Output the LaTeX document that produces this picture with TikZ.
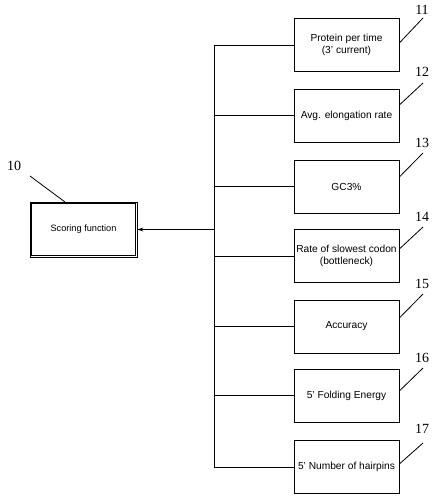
\documentclass[tikz,border=0pt]{standalone}
\usepackage{fontspec}
\setmainfont{Liberation Serif}
\setsansfont{Liberation Sans}
\usetikzlibrary{calc,arrows.meta}
\tikzset{
  factor/.style={draw, line width=0.7pt, minimum width=105pt, minimum height=53pt,
    inner sep=1pt, align=center, font=\sffamily\fontsize{10.2}{12.5}\selectfont},
  wire/.style={line width=0.7pt},
  leader/.style={line width=0.8pt},
  refnum/.style={font=\fontsize{14}{14}\selectfont, inner sep=0pt},
  scorebox/.style={draw, line width=0.8pt, minimum width=107pt, minimum height=55pt,
    font=\sffamily\fontsize{9.2}{11}\selectfont}
}
\begin{document}
\begin{tikzpicture}[x=1pt,y=-1pt]
\useasboundingbox (0,0) rectangle (433,496);

% scoring function box with a double frame
\node[scorebox] (score) at (83.5,229.5) {Scoring function};
\draw[line width=0.8pt] ($(score.south west)+(1.7,-1.7)$) rectangle ($(score.north east)+(-1.7,1.7)$);
\node[refnum] (n10) at (14,166) {10};
\coordinate (e10) at (30,176);
\draw[leader] (e10) -- (65,202);

% criterion boxes
\node[factor] (b11) at (346.5,45)  {Protein per time\\(3' current)};
\node[factor] (b12) at (346.5,115.5) {Avg. elongation rate};
\node[factor] (b13) at (346.5,186.5) {GC3\%};
\node[factor] (b14) at (346.5,256) {Rate of slowest codon\\(bottleneck)};
\node[factor] (b15) at (346.5,326.5) {Accuracy};
\node[factor] (b16) at (346.5,395.5) {5' Folding Energy};
\node[factor] (b17) at (346.5,467) {5' Number of hairpins};

% trunk collecting all criteria
\foreach \b in {11,12,13,14,15,16,17}{
  \coordinate (t\b) at (214,0 |- b\b.west);
  \draw[wire] (t\b) -- (b\b.west);
}
\draw[wire] (t11) -- (t17);
\coordinate (hub) at (214,229.5);
\draw[wire,-{Stealth[length=6pt,width=4pt]}] (hub) -- (score.east);

% reference numerals with leader lines
\foreach \b/\ys/\ye/\yl in {11/43/18/10, 12/105/83/72, 13/177/153/143,
                            14/249/227/217, 15/318/294/284, 16/391/368/358,
                            17/464/443/429}{
  \node[refnum] (n\b) at (422,\yl) {\b};
  \coordinate (e\b) at (423,\ye);
  \draw[leader] (b\b.east |- 0,\ys) -- (e\b);
}
\end{tikzpicture}
\end{document}
